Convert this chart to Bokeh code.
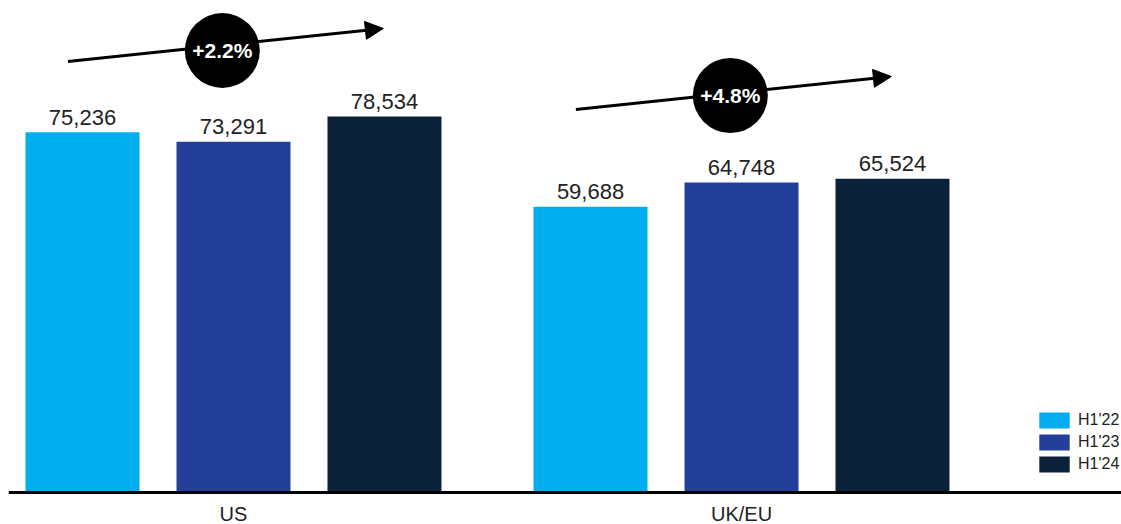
from bokeh.plotting import figure
from bokeh.models import (ColumnDataSource, Range1d, Arrow, NormalHead, Span,
                          Legend, LegendItem)
from bokeh.transform import dodge
from bokeh.core.properties import value
from bokeh.embed import file_html
from bokeh.resources import INLINE

# ---- data ----
regions = ["US", "UK/EU"]
periods = ["H1'22", "H1'23", "H1'24"]
h1_22 = [75236, 59688]
h1_23 = [73291, 64748]
h1_24 = [78534, 65524]
growth = ["+2.2%", "+4.8%"]

colors = ["#00AEEF", "#233F99", "#0B2139"]
FONT = "Liberation Sans"

PX = 208.9  # value units per screen pixel on the y scale
group_x = [0, 1]
src = ColumnDataSource(dict(
    x=group_x,
    base=[0, 0],
    region=regions,
    v22=h1_22, v23=h1_23, v24=h1_24,
    t22=[f"{v:,}" for v in h1_22],
    t23=[f"{v:,}" for v in h1_23],
    t24=[f"{v:,}" for v in h1_24],
))

p = figure(width=1121, height=524, output_backend="svg", toolbar_location=None,
           x_range=Range1d(-0.4429, 1.748), y_range=Range1d(-32 * PX, 492 * PX),
           min_border_left=8, min_border_right=0, min_border_top=0, min_border_bottom=0)
p.outline_line_color = None
p.grid.visible = False
p.axis.visible = False
p.background_fill_color = "white"
p.border_fill_color = "white"

offsets = [-0.2972, 0.0, 0.2972]
bar_w = 0.2244
renderers = []
for col, txt, off, c in zip(["v22", "v23", "v24"], ["t22", "t23", "t24"], offsets, colors):
    r = p.vbar(x=dodge("x", off, range=p.x_range), top=col, width=bar_w, bottom=0,
               source=src, fill_color=c, line_color=None)
    renderers.append(r)
    p.text(x=dodge("x", off, range=p.x_range), y=dodge(col, 15 * PX, range=p.y_range),
           text=txt, source=src,
           text_align="center", text_baseline="middle",
           text_font=value(FONT), text_font_size="22px", text_color="#222222")

# baseline (category axis line) and category labels
p.add_layout(Span(location=0, dimension="width", line_color="black", line_width=3))
p.text(x="x", y=dodge("base", -21 * PX, range=p.y_range), text="region", source=src,
       text_align="center", text_baseline="middle",
       text_font=value(FONT), text_font_size="20px", text_color="#222222")

# growth arrows with circle badges (annotation layout)
arrow_dx_start, arrow_dx_end = -0.326, 0.295
arrow_y_start = [90036, 80009]
arrow_y_end = [96930, 86902]
badge_dx = -0.022
badge_y = [92334, 82933]
for gx, ys, ye in zip(group_x, arrow_y_start, arrow_y_end):
    a = Arrow(end=NormalHead(size=18, fill_color="black", line_color="black"),
              x_start=gx + arrow_dx_start, y_start=ys, x_end=gx + arrow_dx_end, y_end=ye,
              line_width=3, line_color="black", level="underlay")
    p.add_layout(a)

bsrc = ColumnDataSource(dict(x=[g + badge_dx for g in group_x], y=badge_y, t=growth))
p.scatter(x="x", y="y", source=bsrc, size=75, fill_color="black", line_color=None)
p.text(x="x", y="y", text="t", source=bsrc, text_align="center", text_baseline="middle",
       text_font=value(FONT), text_font_size="21px", text_font_style="bold",
       text_color="white")

legend = Legend(items=[LegendItem(label=lab, renderers=[r]) for lab, r in zip(periods, renderers)],
                location=(1027, 50), orientation="vertical",
                glyph_width=38, glyph_height=20, label_height=20, spacing=2,
                label_standoff=5, padding=0, margin=0,
                border_line_color=None, background_fill_alpha=0,
                label_text_font=FONT, label_text_font_size="16px",
                label_text_color="#222222", label_text_baseline="middle")
p.add_layout(legend)

open("out.html", "w").write(file_html(p, INLINE))
